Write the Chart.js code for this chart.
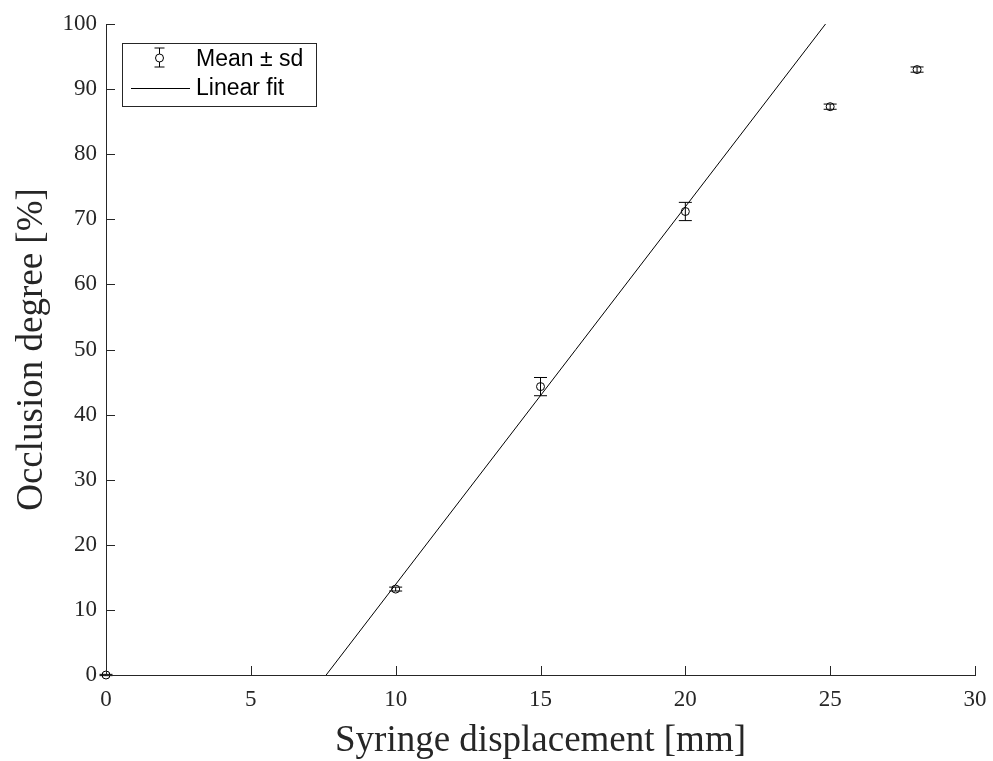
<!DOCTYPE html>
<html><head><meta charset="utf-8">
<script src="https://cdn.jsdelivr.net/npm/chart.js@4.4.1/dist/chart.umd.min.js"></script>
<style>html,body{margin:0;padding:0;background:#fff;}#wrap{width:993px;height:761px;}</style>
</head><body><div id="wrap"><canvas id="c" width="993" height="761"></canvas></div>
<script>
const displacement = [0, 10, 15, 20, 25, 28];
const meanOcclusion = [0, 13.2, 44.3, 71.2, 87.3, 93.0];
const sdOcclusion = [0.1, 0.3, 1.4, 1.4, 0.4, 0.4];
const fitX = [7.6, 24.84];
const fitY = [0, 100];
const xTicks = [0, 5, 10, 15, 20, 25, 30];
const yTicks = [0, 10, 20, 30, 40, 50, 60, 70, 80, 90, 100];
const legendLabels = ['Mean \u00b1 sd', 'Linear fit'];

const AX = '#262626';
const SERIF = '"Liberation Serif", "Times New Roman", serif';
const errorBars = {
  id: 'errorBars',
  afterDatasetsDraw(chart) {
    const {ctx, scales: {x, y}} = chart;
    ctx.save();
    ctx.strokeStyle = '#000'; ctx.lineWidth = 1;
    displacement.forEach((d, i) => {
      const px = x.getPixelForValue(d);
      const top = y.getPixelForValue(meanOcclusion[i] + sdOcclusion[i]);
      const bot = y.getPixelForValue(meanOcclusion[i] - sdOcclusion[i]);
      ctx.beginPath();
      ctx.moveTo(px, top); ctx.lineTo(px, bot);
      ctx.moveTo(px - 6.5, top); ctx.lineTo(px + 6.5, top);
      ctx.moveTo(px - 6.5, bot); ctx.lineTo(px + 6.5, bot);
      ctx.stroke();
    });
    ctx.restore();
  }
};
const innerTicks = {
  id: 'innerTicks',
  afterDraw(chart) {
    const {ctx, chartArea: a, scales: {x, y}} = chart;
    ctx.save();
    ctx.strokeStyle = AX; ctx.lineWidth = 1;
    ctx.beginPath();
    xTicks.forEach(t => { const px = Math.round(x.getPixelForValue(t)) + 0.5; ctx.moveTo(px, a.bottom); ctx.lineTo(px, a.bottom - 9); });
    yTicks.forEach(t => { const py = Math.round(y.getPixelForValue(t)) + 0.5; ctx.moveTo(a.left, py); ctx.lineTo(a.left + 9, py); });
    ctx.stroke();
    // legend box
    const lx = 122, ly = 43, lw = 194, lh = 63;
    ctx.fillStyle = '#fff';
    ctx.fillRect(lx, ly, lw, lh);
    ctx.strokeStyle = AX;
    ctx.strokeRect(lx + 0.5, ly + 0.5, lw, lh);
    ctx.strokeStyle = '#000';
    const sx = 159.5, sy = 59;
    ctx.beginPath();
    ctx.moveTo(sx, sy - 11); ctx.lineTo(sx, sy + 8);
    ctx.moveTo(sx - 5, sy - 11); ctx.lineTo(sx + 5, sy - 11);
    ctx.moveTo(sx - 5, sy + 8); ctx.lineTo(sx + 5, sy + 8);
    ctx.stroke();
    ctx.beginPath(); ctx.arc(sx, sy - 1, 4, 0, Math.PI * 2); ctx.fillStyle = '#fff'; ctx.fill(); ctx.stroke();
    ctx.beginPath(); ctx.moveTo(131, 88.5); ctx.lineTo(190, 88.5); ctx.stroke();
    ctx.fillStyle = '#000';
    ctx.font = '23px "Liberation Sans", Arial, sans-serif';
    ctx.textBaseline = 'middle'; ctx.textAlign = 'left';
    ctx.fillText(legendLabels[0], 196, 60);
    ctx.fillText(legendLabels[1], 196, 89);
    ctx.restore();
  }
};

new Chart(document.getElementById('c'), {
  type: 'scatter',
  data: {
    datasets: [
      {
        label: legendLabels[0],
        data: displacement.map((d, i) => ({x: d, y: meanOcclusion[i]})),
        showLine: false, clip: false,
        pointStyle: 'circle', pointRadius: 4, pointBorderWidth: 1,
        pointBorderColor: '#000', pointBackgroundColor: 'rgba(255,255,255,0)'
      },
      {
        label: legendLabels[1],
        data: fitX.map((d, i) => ({x: d, y: fitY[i]})),
        showLine: true, borderColor: '#000', borderWidth: 1, pointRadius: 0
      }
    ]
  },
  plugins: [errorBars, innerTicks],
  options: {
    responsive: false, animation: false,
    layout: {padding: {left: 0, right: 18, top: 24, bottom: 0}},
    plugins: {legend: {display: false}, tooltip: {enabled: false}},
    scales: {
      x: {
        type: 'linear', min: 0, max: 30,
        afterBuildTicks: s => { s.ticks = xTicks.map(v => ({value: v})); },
        afterFit: s => { s.height = 86; },
        grid: {display: false},
        border: {display: true, color: AX, width: 1},
        ticks: {color: AX, font: {family: SERIF, size: 23}, padding: 3, maxRotation: 0},
        title: {display: true, text: 'Syringe displacement [mm]', color: AX, font: {family: SERIF, size: 37, lineHeight: 0.85}, padding: {top: 8}}
      },
      y: {
        type: 'linear', min: 0, max: 100,
        afterBuildTicks: s => { s.ticks = yTicks.map(v => ({value: v})); },
        afterFit: s => { s.width = 106; },
        grid: {display: false},
        border: {display: true, color: AX, width: 1},
        ticks: {color: AX, font: {family: SERIF, size: 23}, padding: 1},
        title: {display: true, text: 'Occlusion degree [%]', color: AX, font: {family: SERIF, size: 37}, padding: {top: 10, bottom: 4}}
      }
    }
  }
});
</script></body></html>
